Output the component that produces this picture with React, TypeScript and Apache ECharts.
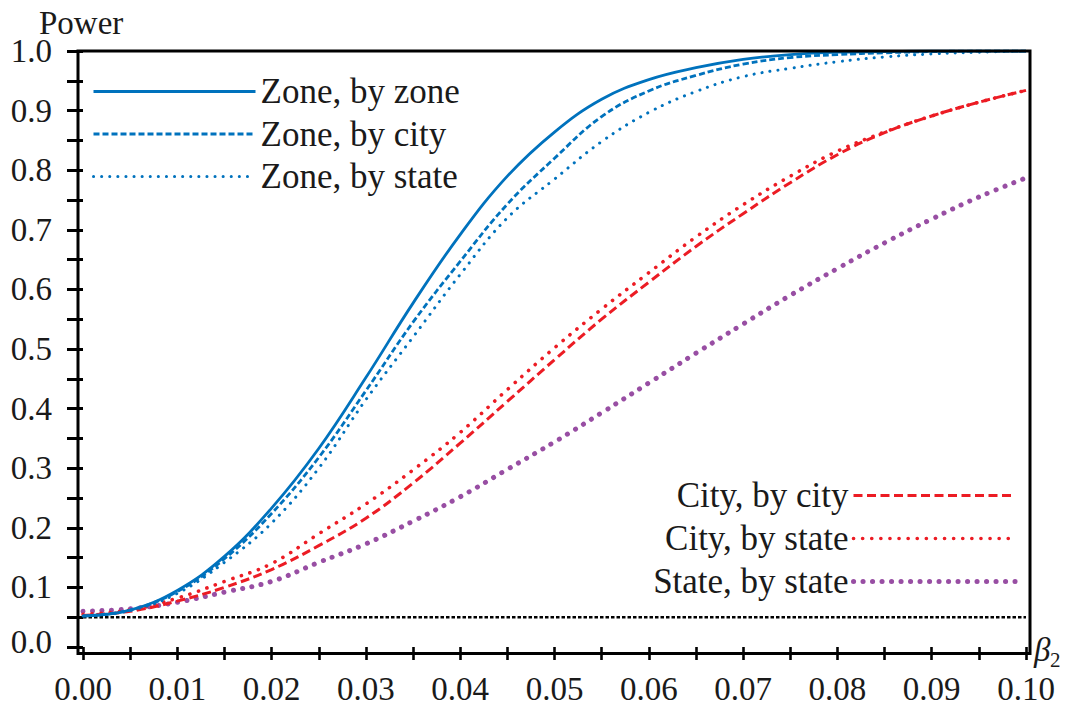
import React, { useEffect, useRef } from "react";
import * as echarts from "echarts";

const beta = [0, 0.005, 0.01, 0.015, 0.02, 0.025, 0.03, 0.035, 0.04, 0.045, 0.05, 0.055, 0.06, 0.065, 0.07, 0.075, 0.08, 0.085, 0.09, 0.095, 0.1];

const zoneByZone = [0.052, 0.062, 0.095, 0.152, 0.233, 0.333, 0.452, 0.577, 0.692, 0.79, 0.864, 0.919, 0.952, 0.972, 0.986, 0.994, 0.998, 0.999, 1.0, 1.0, 1.0];
const zoneByCity = [0.052, 0.062, 0.093, 0.148, 0.224, 0.318, 0.43, 0.545, 0.647, 0.743, 0.82, 0.89, 0.933, 0.959, 0.978, 0.989, 0.994, 0.997, 0.999, 1.0, 1.0];
const zoneByState = [0.052, 0.061, 0.09, 0.142, 0.208, 0.3, 0.415, 0.52, 0.625, 0.72, 0.785, 0.848, 0.897, 0.932, 0.957, 0.971, 0.982, 0.99, 0.995, 0.998, 1.0];
const cityByCity = [0.053, 0.06, 0.077, 0.1, 0.13, 0.17, 0.216, 0.275, 0.342, 0.412, 0.482, 0.55, 0.612, 0.672, 0.727, 0.779, 0.826, 0.863, 0.891, 0.914, 0.934];
const cityByState = [0.055, 0.062, 0.082, 0.11, 0.14, 0.19, 0.24, 0.297, 0.36, 0.432, 0.502, 0.567, 0.628, 0.688, 0.742, 0.79, 0.832, 0.864, 0.891, 0.914, 0.934];
const stateByState = [0.06, 0.064, 0.075, 0.092, 0.11, 0.142, 0.173, 0.211, 0.252, 0.298, 0.344, 0.393, 0.443, 0.493, 0.542, 0.59, 0.635, 0.678, 0.718, 0.755, 0.787];

const nominalLevel = 0.05;

const legendTop = ["Zone, by zone", "Zone, by city", "Zone, by state"];
const legendBottom = ["City, by city", "City, by state", "State, by state"];

const FONT = "Liberation Serif";
const BLUE = "#0072BD";
const RED = "#EC1C24";
const PURPLE = "#984EA3";
const TEXT = "#1a1a1a";

const pairs = (ys: number[]) => beta.map((b, i) => [b, ys[i]]);

export default function App() {
  const ref = useRef<HTMLDivElement>(null);

  useEffect(() => {
    if (!ref.current) return;
    const chart = echarts.init(ref.current, undefined, { renderer: "svg" });

    const lineSeries = (name: string, ys: number[], color: string, width: number, type: any, cap: string, z: number) => ({
      name,
      type: "line",
      data: pairs(ys),
      symbol: "none",
      showSymbol: false,
      smooth: 0.4,
      z,
      lineStyle: { color, width, type, cap },
      itemStyle: { color },
      emphasis: { disabled: true },
    });

    const legendCommon = {
      orient: "vertical",
      itemWidth: 162,
      itemHeight: 14,
      padding: 0,
      selectedMode: false,
      textStyle: { fontFamily: FONT, fontSize: 35, lineHeight: 34, color: TEXT },
      lineStyle: { width: "inherit" },
      itemStyle: { opacity: 0 },
    };

    const option: any = {
      animation: false,
      textStyle: { fontFamily: FONT },
      grid: { left: 83, right: 41, top: 51, bottom: 51.7, containLabel: false },
      xAxis: {
        type: "value",
        min: 0,
        max: 0.1,
        interval: 0.01,
        offset: 3,
        axisLine: { show: false },
        axisTick: { show: true, length: 13, lineStyle: { color: "#000", width: 2.6 } },
        minorTick: { show: true, splitNumber: 2, length: 13, lineStyle: { color: "#000", width: 2.6 } },
        splitLine: { show: false },
        minorSplitLine: { show: false },
        axisLabel: {
          formatter: (v: number) => v.toFixed(2),
          fontFamily: FONT,
          fontSize: 33,
          color: TEXT,
          margin: 22,
          showMinLabel: true,
          showMaxLabel: true,
        },
      },
      yAxis: {
        type: "value",
        min: 0,
        max: 1,
        interval: 0.1,
        offset: 5,
        axisLine: { show: false },
        axisTick: { show: true, length: 16, lineStyle: { color: "#000", width: 3 } },
        minorTick: { show: true, splitNumber: 2, length: 16, lineStyle: { color: "#000", width: 3 } },
        splitLine: { show: false },
        minorSplitLine: { show: false },
        axisLabel: {
          formatter: (v: number) => (v === 0 ? "{z|0.0}" : v.toFixed(1)),
          fontFamily: FONT,
          fontSize: 33,
          color: TEXT,
          margin: 26,
          showMinLabel: true,
          showMaxLabel: true,
          rich: {
            z: { fontFamily: FONT, fontSize: 33, color: TEXT, padding: [0, 0, 10, 0] },
          },
        },
      },
      legend: [
        { ...legendCommon, data: legendTop, left: 92, top: 74, itemGap: 7.5 },
        { ...legendCommon, data: legendBottom, right: 49, top: 478, itemGap: 8, align: "right" },
      ],
      series: [
        {
          name: "nominal",
          type: "line",
          data: [[beta[0], nominalLevel], [beta[beta.length - 1], nominalLevel]],
          symbol: "none",
          z: 1,
          lineStyle: { color: "#000", width: 2.6, type: [3.5, 2] },
          emphasis: { disabled: true },
        },
        lineSeries("State, by state", stateByState, PURPLE, 5, [0.1, 9.4], "round", 2),
        lineSeries("City, by city", cityByCity, RED, 3, [9, 4.5], "butt", 3),
        lineSeries("City, by state", cityByState, RED, 3.6, [0.1, 9], "round", 4),
        lineSeries("Zone, by state", zoneByState, BLUE, 3, [0.1, 8], "round", 5),
        lineSeries("Zone, by city", zoneByCity, BLUE, 2.8, [6, 3], "butt", 6),
        lineSeries("Zone, by zone", zoneByZone, BLUE, 2.8, "solid", "butt", 7),
      ],
      graphic: [
        {
          type: "rect",
          shape: { x: 78, y: 51, width: 952, height: 602.5 },
          style: { fill: "none", stroke: "#000", lineWidth: 3 },
          z: 10,
          silent: true,
        },
        {
          type: "text",
          x: 39,
          y: 23,
          style: { text: "Power", fontFamily: FONT, fontSize: 33, fill: TEXT, align: "left", verticalAlign: "middle" },
        },
        {
          type: "text",
          x: 1034,
          y: 650,
          style: { text: "β", fontFamily: FONT, fontStyle: "italic", fontSize: 33, fill: TEXT, align: "left", verticalAlign: "middle" },
        },
        {
          type: "text",
          x: 1050,
          y: 660,
          style: { text: "2", fontFamily: FONT, fontSize: 21, fill: TEXT, align: "left", verticalAlign: "middle" },
        },
      ],
    };

    chart.setOption(option);
    return () => chart.dispose();
  }, []);

  return (
    <div
      ref={ref}
      style={{ position: "fixed", left: 0, top: 0, width: 1067, height: 705, background: "#fff" }}
    />
  );
}
